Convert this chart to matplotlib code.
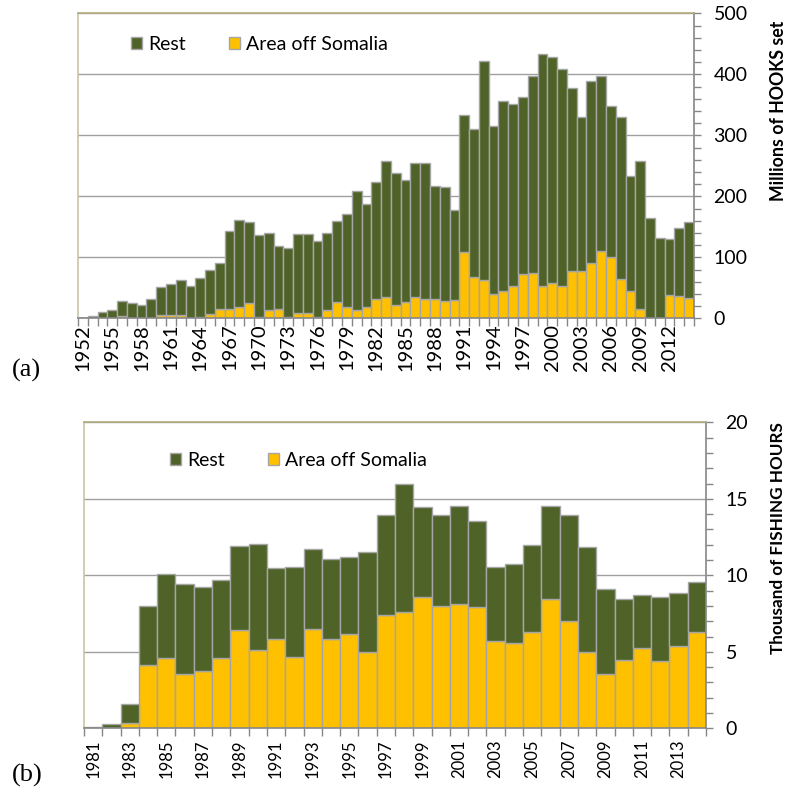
import numpy as np
import matplotlib
matplotlib.use("Agg")
import matplotlib.pyplot as plt

# ---------------- data ----------------
years_a = list(range(1952, 2015))
total_a = [1, 4, 11, 14, 28, 25, 21, 32, 51, 57, 63, 53, 66, 79, 91,
           143, 161, 158, 136, 140, 119, 115, 138, 138, 127, 140, 160, 171, 208, 187,
           224, 258, 239, 226, 254, 255, 217, 215, 178, 333, 310, 422, 316, 357, 351,
           362, 397, 433, 428, 409, 377, 330, 389, 397, 348, 330, 233, 258, 164, 131,
           130, 148, 158]
somalia_a = [0, 0, 0, 0, 3, 0, 0, 0, 5, 5, 5, 1, 2, 7, 16,
             15, 19, 25, 2, 14, 15, 2, 8, 8, 2, 14, 26, 18, 14, 19,
             31, 35, 22, 26, 35, 31, 32, 28, 30, 108, 67, 63, 40, 45, 53,
             72, 74, 53, 58, 53, 77, 78, 90, 111, 100, 65, 44, 16, 0, 0,
             38, 37, 33]
rest_a = [t - s for t, s in zip(total_a, somalia_a)]

years_b = list(range(1981, 2015))
total_b = [0.1, 0.26, 1.57, 7.97, 10.07, 9.43, 9.26, 9.69, 11.9, 12.05, 10.48, 10.54,
           11.7, 11.05, 11.22, 11.55, 13.94, 15.97, 14.44, 13.94, 14.51, 13.55, 10.54,
           10.76, 12.0, 14.55, 13.92, 11.83, 9.08, 8.43, 8.69, 8.58, 8.82, 9.54]
somalia_b = [0.0, 0.0, 0.35, 4.12, 4.58, 3.57, 3.75, 4.58, 6.41, 5.12, 5.86, 4.64,
             6.47, 5.86, 6.19, 5.01, 7.41, 7.58, 8.58, 7.97, 8.15, 7.91, 5.69,
             5.58, 6.30, 8.43, 6.99, 5.01, 3.57, 4.47, 5.23, 4.40, 5.40, 6.30]
rest_b = [t - s for t, s in zip(total_b, somalia_b)]

series_names = ["Rest", "Area off Somalia"]
ylabel_a = "Millions of HOOKS set"
ylabel_b = "Thousand of FISHING HOURS"

# ---------------- style ----------------
C_REST = "#4F6228"
C_SOM = "#FFC000"
C_EDGE = "#A6A6A6"
C_GRID = "#A0A0A0"
C_AX = "#868686"
C_TAN_TOP = "#B3AC7E"
C_TAN_LEFT = "#C9C4A8"
FONT = "Lato"

W, H = 788, 789
fig = plt.figure(figsize=(W / 100, H / 100), dpi=100)


def px_axes(l, t, r, b):
    return fig.add_axes([l / W, 1 - b / H, (r - l) / W, (b - t) / H])


def style_axes(ax, years, ymax, major, minor, label_years, ypad, xpad, xfs):
    ax.set_xlim(years[0] - 0.5, years[-1] + 0.5)
    ax.set_ylim(0, ymax)
    ax.set_yticks(np.arange(0, ymax + 0.001, major))
    ax.set_yticks(np.arange(0, ymax + 0.001, minor), minor=True)
    ax.yaxis.tick_right()
    ax.yaxis.set_tick_params(which="both", direction="out", length=5, width=1,
                             color=C_AX, pad=ypad, labelsize=14)
    for lab in ax.get_yticklabels():
        lab.set_fontfamily(FONT)
    ax.set_xticks(label_years)
    ax.set_xticklabels([str(y) for y in label_years], rotation=90,
                       fontsize=xfs, family=FONT)
    ax.set_xticks(np.arange(years[0] - 0.5, years[-1] + 0.6, 1), minor=True)
    ax.xaxis.set_tick_params(which="major", length=0, pad=xpad)
    ax.xaxis.set_tick_params(which="minor", length=6, width=1, color=C_AX, direction="out")
    ax.grid(axis="y", which="major", color=C_GRID, lw=1)
    ax.set_axisbelow(True)
    ax.spines["top"].set_color(C_TAN_TOP)
    ax.spines["left"].set_color(C_TAN_LEFT)
    ax.spines["right"].set_color(C_AX)
    ax.spines["bottom"].set_color(C_AX)
    for s in ax.spines.values():
        s.set_linewidth(1.2)


LEG_KW = dict(ncol=2, frameon=False, loc="center left",
              bbox_transform=fig.transFigure, borderpad=0, borderaxespad=0,
              handlelength=0.57, handleheight=0.57, handletextpad=0.31,
              columnspacing=2.2, prop={"family": FONT, "size": 14})

# ---------------- panel (a) ----------------
ax1 = px_axes(78, 13.3, 694, 318.3)
b_som = ax1.bar(years_a, somalia_a, width=1.0, color=C_SOM, edgecolor=C_EDGE, lw=1)
b_rest = ax1.bar(years_a, rest_a, bottom=somalia_a, width=1.0, color=C_REST,
                 edgecolor=C_EDGE, lw=1)
style_axes(ax1, years_a, 500, 100, 20, list(range(1952, 2013, 3)), 9, 4, 14.5)
ax1.legend(handles=[b_rest, b_som], labels=series_names,
           bbox_to_anchor=(131 / W, 1 - 44 / H), **LEG_KW)
fig.text(778 / W, 1 - 111 / H, ylabel_a, rotation=90, ha="center", va="center",
         family=FONT, fontweight="bold", fontsize=12.8)
fig.text(12 / W, 1 - 370 / H, "(a)", ha="left", va="center",
         family="Liberation Serif", fontsize=19)

# ---------------- panel (b) ----------------
ax2 = px_axes(84, 422.3, 706, 728.3)
c_som = ax2.bar(years_b, somalia_b, width=1.0, color=C_SOM, edgecolor=C_EDGE, lw=1)
c_rest = ax2.bar(years_b, rest_b, bottom=somalia_b, width=1.0, color=C_REST,
                 edgecolor=C_EDGE, lw=1)
style_axes(ax2, years_b, 20, 5, 1, list(range(1981, 2014, 2)), 9, 8, 12)
ax2.legend(handles=[c_rest, c_som], labels=series_names,
           bbox_to_anchor=(170 / W, 1 - 460.5 / H), **LEG_KW)
fig.text(778 / W, 1 - 538 / H, ylabel_b, rotation=90, ha="center", va="center",
         family=FONT, fontweight="bold", fontsize=12.3)
fig.text(12 / W, 1 - 775 / H, "(b)", ha="left", va="center",
         family="Liberation Serif", fontsize=19)

fig.savefig("out.png", dpi=100, facecolor="white")
